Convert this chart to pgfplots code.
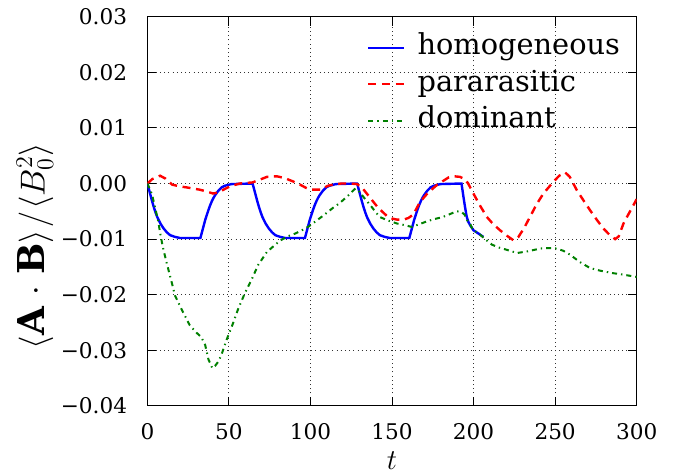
\documentclass[border=0pt]{standalone}
\usepackage{fontspec}
\setmainfont{DejaVu Serif}
\usepackage{pgfplots}
\pgfplotsset{compat=1.18}
\definecolor{mplblue}{rgb}{0,0,1}
\definecolor{mplred}{rgb}{1,0,0}
\definecolor{mplgreen}{rgb}{0,0.5,0}
\begin{document}
\begin{tikzpicture}
\begin{axis}[
  scale only axis,
  width=244.5pt, height=194.5pt,
  xmin=0, xmax=300, ymin=-0.04, ymax=0.03,
  scaled y ticks=false, scaled x ticks=false,
  axis line style={line width=0.5pt},
  xtick={0,50,100,150,200,250,300},
  xticklabels={0,50,100,150,200,250,300},
  ytick={-0.04,-0.03,-0.02,-0.01,0,0.01,0.02,0.03},
  yticklabels={−0.04,−0.03,−0.02,−0.01,0.00,0.01,0.02,0.03},
  tick label style={font=\fontsize{10.8}{13}\selectfont},
  xticklabel style={yshift=-5.4pt},
  yticklabel style={xshift=-6.6pt},
  major tick length=4.5pt,
  tick style={line width=0.5pt, black},
  grid=major,
  major grid style={black!80, line width=0.5pt, dash pattern=on 0.5pt off 1.6pt},
  xlabel={$t$},
  xlabel style={at={(axis description cs:0.5,0)}, anchor=center, yshift=-27.5pt, font=\fontsize{14.4}{17}\selectfont},
  ylabel={$\langle \mathbf{A}\mskip2mu\cdot\mskip2mu\mathbf{B}\rangle\mskip1mu/\mskip1mu\langle B_0^2\rangle$},
  ylabel style={at={(axis description cs:-0.2297,0.411)}, anchor=center, font=\fontsize{18.5}{22}\selectfont},
  legend cell align=left,
  legend style={at={(axis description cs:0.9708,0.9625)}, anchor=north east, draw=none, fill=none,
    font=\fontsize{14.4}{17}\selectfont, inner sep=0pt, row sep=2.2pt,
    nodes={inner sep=1pt, text height=10.5pt, text depth=3.5pt}},
  legend image code/.code={\draw[#1] (0pt,0pt) -- (18pt,0pt);},
  /tikz/every odd column/.append style={column sep=5pt},
]
\addplot[mplblue, line width=1.2pt] coordinates {
(0,0) (1,-0.0011) (2,-0.0022) (3,-0.0033) (4,-0.0043) (5,-0.0052) (6,-0.0060) (7,-0.0066) (8,-0.0072) (10,-0.0081) (12,-0.0088) (14,-0.0093) (17,-0.0096) (20,-0.0098) (32.5,-0.0098)
(33.5,-0.0087) (34.5,-0.0076) (35.5,-0.0065) (36.5,-0.0056) (37.5,-0.0047) (38.5,-0.0039) (39.5,-0.0032) (40.5,-0.0026) (41.5,-0.0021) (43.5,-0.0013) (45.5,-0.0007) (47.5,-0.0004) (51.5,-0.0001) (64.5,0)
(65.5,-0.0011) (66.5,-0.0022) (67.5,-0.0033) (68.5,-0.0043) (69.5,-0.0052) (70.5,-0.0060) (71.5,-0.0066) (72.5,-0.0072) (74.5,-0.0081) (76.5,-0.0088) (78.5,-0.0093) (81.5,-0.0096) (84.5,-0.0098) (96.6,-0.0098)
(97.6,-0.0087) (98.6,-0.0076) (99.6,-0.0065) (100.6,-0.0056) (101.6,-0.0047) (102.6,-0.0039) (103.6,-0.0032) (104.6,-0.0026) (105.6,-0.0021) (107.6,-0.0013) (109.6,-0.0007) (111.6,-0.0004) (115.6,-0.0001) (128.6,0)
(129.6,-0.0011) (130.6,-0.0022) (131.6,-0.0033) (132.6,-0.0043) (133.6,-0.0052) (134.6,-0.0060) (135.6,-0.0066) (136.6,-0.0072) (138.6,-0.0081) (140.6,-0.0088) (142.6,-0.0093) (145.6,-0.0096) (148.6,-0.0098) (160.6,-0.0098)
(161.6,-0.0087) (162.6,-0.0076) (163.6,-0.0065) (164.6,-0.0056) (165.6,-0.0047) (166.6,-0.0039) (167.6,-0.0032) (168.6,-0.0026) (169.6,-0.0021) (171.6,-0.0013) (173.6,-0.0007) (175.6,-0.0004) (179.6,-0.0001) (192.6,0)
(193.8,-0.0024) (194.8,-0.0043) (195.8,-0.0060) (196.8,-0.0069) (197.9,-0.0075) (199.9,-0.0084) (203,-0.0090) (206,-0.0096)
};
\addlegendentry{homogeneous}
\addplot[mplred, line width=1.2pt, dash pattern=on 4pt off 2.8pt] coordinates {
(0,0) (3,0.0008) (7.8,0.0014) (11,0.0009) (15.2,-0.0002) (19.5,-0.0005) (24.1,-0.0007) (31.9,-0.0011) (36,-0.0014) (40.3,-0.0018) (43.5,-0.0016) (46.7,-0.0011) (50.7,-0.0005) (56.6,0) (64.5,0.0002) (69,0.0007) (73.3,0.0012) (79.3,0.0013) (84,0.0010) (89.1,0.0004) (93.6,-0.0002) (98,-0.0009) (100,-0.0011) (105.9,-0.0011) (110.8,-0.0004) (113.7,-0.0002) (118.7,0) (124,0) (128.5,-0.0001) (131.5,-0.0007) (136.4,-0.0025) (141.3,-0.0043) (146.7,-0.0058) (150,-0.0063) (153.2,-0.0065) (157.1,-0.0065) (160,-0.0062) (163,-0.0056) (167,-0.0034) (171.9,-0.0017) (177.8,-0.0002) (184.7,0.0011) (188,0.0013) (191.6,0.0012) (193.8,0.0009) (196.5,0.0001) (199.9,-0.0018) (204,-0.0040) (208.1,-0.006) (212,-0.0073) (216.2,-0.0084) (220.5,-0.0094) (224.4,-0.0102) (227.5,-0.0096) (231,-0.0080) (234.6,-0.006) (238.5,-0.0038) (242.8,-0.0018) (248.9,0.0003) (252.5,0.0014) (256.1,0.002) (259,0.0012) (263.3,-0.0012) (267.3,-0.0030) (271.4,-0.0048) (275.5,-0.0065) (279.6,-0.0081) (283.3,-0.0092) (286.8,-0.01) (289,-0.0095) (291.9,-0.0072) (295,-0.0055) (298,-0.0039) (300,-0.0028)
};
\addlegendentry{pararasitic}
\addplot[mplgreen, line width=1pt, dash pattern=on 2.5pt off 2pt on 0.7pt off 2pt] coordinates {
(0,0) (2.7,-0.0018) (4.7,-0.0043) (6.8,-0.0070) (7.8,-0.0089) (9.6,-0.0116) (12.1,-0.0146) (14.5,-0.0173) (17,-0.0202) (21.1,-0.0227) (26,-0.0255) (30,-0.0268) (33,-0.0276) (35.4,-0.029) (37.4,-0.0316) (39.8,-0.0332) (41.5,-0.0328) (43.3,-0.0321) (45.3,-0.0309) (48.7,-0.028) (52.3,-0.0253) (55.6,-0.0226) (59.5,-0.0199) (64,-0.0172) (68,-0.0146) (73.3,-0.0123) (81.2,-0.0103) (86,-0.0095) (90.6,-0.009) (95.5,-0.0083) (99,-0.0077) (106.8,-0.006) (113.7,-0.0044) (118,-0.0035) (122.6,-0.0023) (127.5,-0.0009) (130,-0.0015) (133,-0.0026) (136.4,-0.0038) (142.3,-0.006) (148,-0.0067) (153.2,-0.0072) (158,-0.0075) (162,-0.0078) (166,-0.0074) (171.4,-0.0068) (176,-0.0064) (181.3,-0.006) (185.5,-0.0055) (189.6,-0.005) (192.5,-0.0051) (194.5,-0.0056) (196,-0.0066) (197.5,-0.007) (199.5,-0.0083) (204,-0.0092) (207.5,-0.0101) (211.3,-0.011) (215.5,-0.0115) (220.1,-0.0119) (226.7,-0.0125) (233,-0.0122) (240.8,-0.0117) (246,-0.0116) (251.2,-0.0117) (255,-0.0121) (259.2,-0.0128) (265,-0.0141) (271.4,-0.0152) (278,-0.0157) (285,-0.0161) (292,-0.0164) (300,-0.0168)
};
\addlegendentry{dominant}
\end{axis}
\pgfresetboundingbox
\path[use as bounding box] ([shift={(-73.65pt,-34pt)}]current axis.south west) rectangle ([shift={(25.15pt,8.35pt)}]current axis.north east);
\end{tikzpicture}
\end{document}
